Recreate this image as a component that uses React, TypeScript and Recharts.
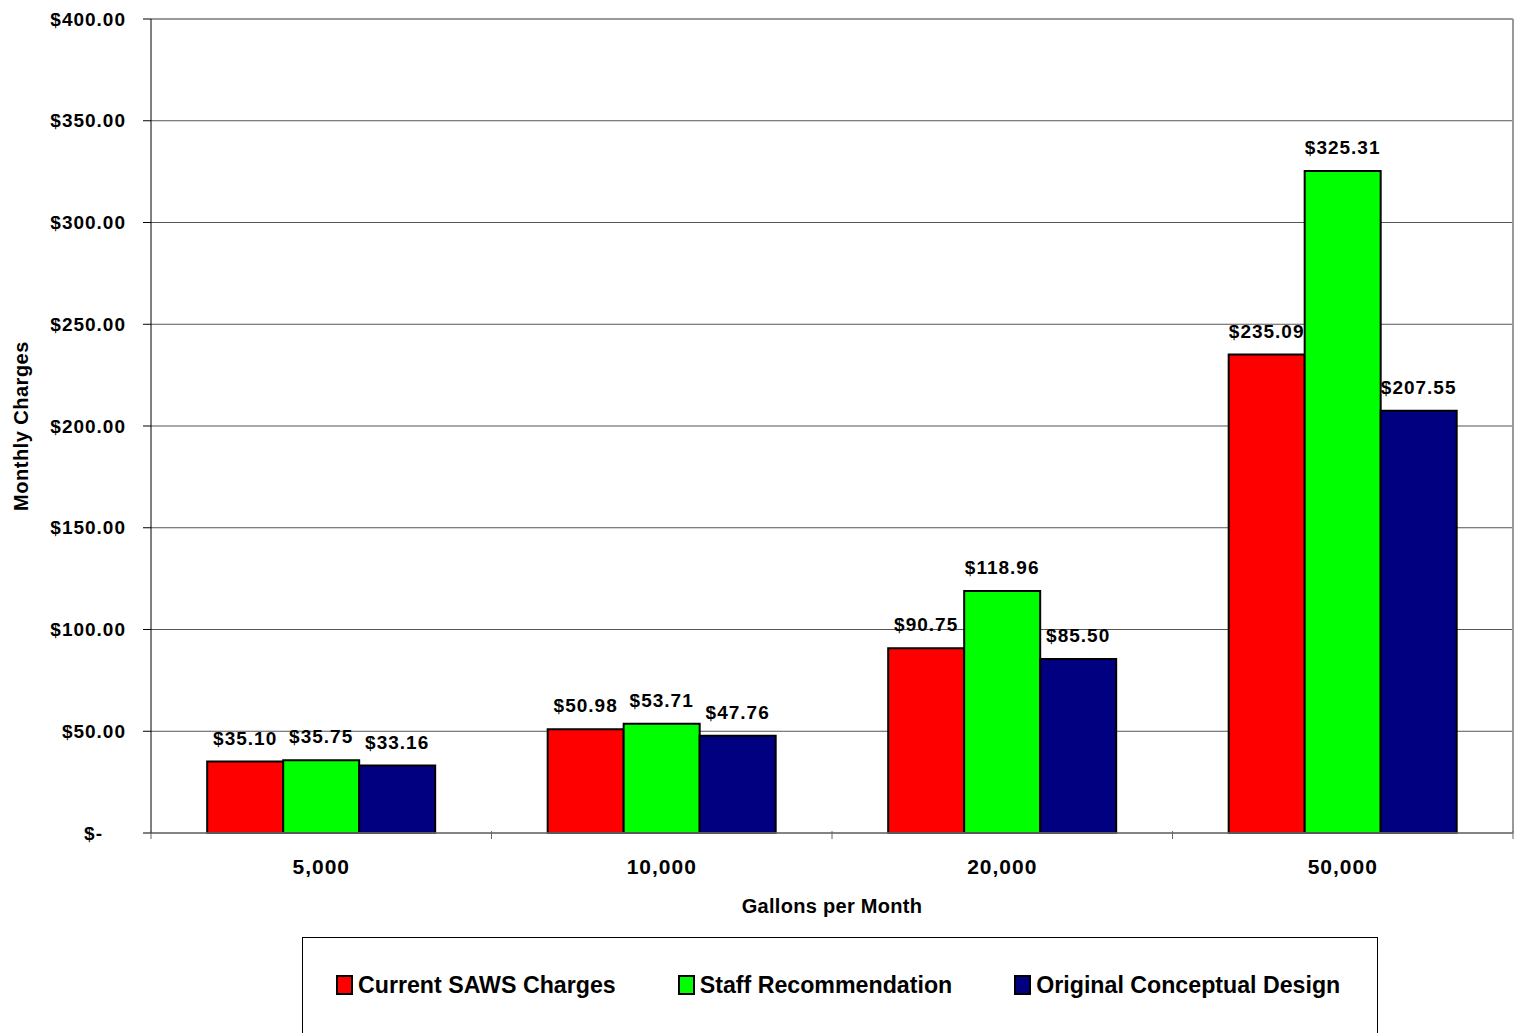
import React from "react";
import {
  BarChart,
  Bar,
  XAxis,
  YAxis,
  CartesianGrid,
  LabelList,
  ReferenceLine,
} from "recharts";

const categories = ["5,000", "10,000", "20,000", "50,000"];
const currentSaws = [35.1, 50.98, 90.75, 235.09];
const staffRec = [35.75, 53.71, 118.96, 325.31];
const originalDesign = [33.16, 47.76, 85.5, 207.55];
const yTicks = [0, 50, 100, 150, 200, 250, 300, 350, 400];

const series = [
  { key: "current", name: "Current SAWS Charges", color: "#FF0000" },
  { key: "staff", name: "Staff Recommendation", color: "#00FF00" },
  { key: "original", name: "Original Conceptual Design", color: "#000080" },
];

const data = categories.map((name, i) => ({
  name,
  current: currentSaws[i],
  staff: staffRec[i],
  original: originalDesign[i],
}));

const FONT = "'Liberation Sans', Arial, sans-serif";
const W = 1517;
const H = 1033;
const PLOT_LEFT = 151;
const PLOT_RIGHT = 4;
const HALF_BAND = (W - PLOT_LEFT - PLOT_RIGHT) / categories.length / 2;

const money = (v: number) => (v === 0 ? "$-" : `$${v.toFixed(2)}`);

const YTick = (props: any) => {
  const { x, y, payload } = props;
  const v = payload.value;
  return (
    <text
      x={v === 0 ? x - 23 : x}
      y={y}
      dy={6.5}
      textAnchor="end"
      fontFamily={FONT}
      fontWeight="bold"
      fontSize={19}
      letterSpacing={1}
      fill="#000"
    >
      {money(v)}
    </text>
  );
};

const XTick = (props: any) => {
  const { x, y, payload, index } = props;
  const top = y - 10;
  return (
    <g>
      <line x1={x - HALF_BAND} x2={x - HALF_BAND} y1={top} y2={top + 8} stroke="#666" />
      {index === categories.length - 1 && (
        <line x1={x + HALF_BAND} x2={x + HALF_BAND} y1={top} y2={top + 8} stroke="#666" />
      )}
      <text
        x={x}
        y={top + 43}
        textAnchor="middle"
        fontFamily={FONT}
        fontWeight="bold"
        fontSize={21}
        letterSpacing={1}
        fill="#000"
      >
        {payload.value}
      </text>
    </g>
  );
};

const YLabel = (props: any) => {
  const vb = props.viewBox || { y: 19, height: 814 };
  const cy = vb.y + vb.height / 2;
  return (
    <text
      x={21}
      y={cy}
      transform={`rotate(-90 21 ${cy})`}
      textAnchor="middle"
      dominantBaseline="central"
      fontFamily={FONT}
      fontWeight="bold"
      fontSize={20}
      letterSpacing={0.5}
      fill="#000"
    >
      Monthly Charges
    </text>
  );
};

const App = () => {
  return (
    <div style={{ position: "absolute", left: 0, top: 0, width: W, height: H, background: "#fff", fontFamily: FONT }}>
      <BarChart
        width={W}
        height={H}
        data={data}
        margin={{ top: 19, right: 0, left: 0, bottom: 119 }}
        barCategoryGap="16.5%"
        barGap={0}
      >
        <CartesianGrid vertical={false} stroke="#555" />
        <XAxis
          dataKey="name"
          height={81}
          axisLine={{ stroke: "#777", strokeWidth: 1.5 }}
          tickLine={false}
          tick={<XTick />}
          interval={0}
          label={{
            value: "Gallons per Month",
            position: "insideBottom",
            offset: 1,
            fontFamily: FONT,
            fontWeight: "bold",
            fontSize: 20,
            letterSpacing: 0.3,
            fill: "#000",
          }}
        />
        <YAxis
          width={PLOT_LEFT}
          domain={[0, 400]}
          ticks={yTicks}
          interval={0}
          axisLine={{ stroke: "#000" }}
          tickLine={{ stroke: "#000" }}
          tickSize={8}
          tickMargin={17}
          tick={<YTick />}
          label={<YLabel />}
        />
        <YAxis
          yAxisId="right"
          orientation="right"
          width={PLOT_RIGHT}
          domain={[0, 400]}
          tick={false}
          tickLine={false}
          axisLine={{ stroke: "#999", strokeWidth: 2 }}
        />
        <ReferenceLine y={400} stroke="#999" strokeWidth={2} />
        {series.map((s) => (
          <Bar
            key={s.key}
            dataKey={s.key}
            name={s.name}
            fill={s.color}
            stroke="#000"
            strokeWidth={2}
            isAnimationActive={false}
          >
            <LabelList
              dataKey={s.key}
              position="top"
              offset={17}
              formatter={(v: any) => money(Number(v))}
              style={{
                fontFamily: FONT,
                fontWeight: "bold",
                fontSize: 19,
                letterSpacing: 1,
                fill: "#000",
              }}
            />
          </Bar>
        ))}
      </BarChart>
      <div
        style={{
          position: "absolute",
          left: 302,
          top: 937,
          width: 1076,
          height: 110,
          border: "1px solid #000",
          display: "flex",
          alignItems: "center",
          paddingLeft: 33,
          paddingBottom: 14,
          boxSizing: "border-box",
          gap: 62,
        }}
      >
        {series.map((s) => (
          <div key={s.key} style={{ display: "flex", alignItems: "center" }}>
            <span
              style={{
                display: "inline-block",
                width: 13,
                height: 16,
                background: s.color,
                border: "2px solid #000",
                marginRight: 5,
              }}
            />
            <span style={{ fontFamily: FONT, fontWeight: "bold", fontSize: 23.2, color: "#000", whiteSpace: "nowrap" }}>
              {s.name}
            </span>
          </div>
        ))}
      </div>
    </div>
  );
};

export default App;
